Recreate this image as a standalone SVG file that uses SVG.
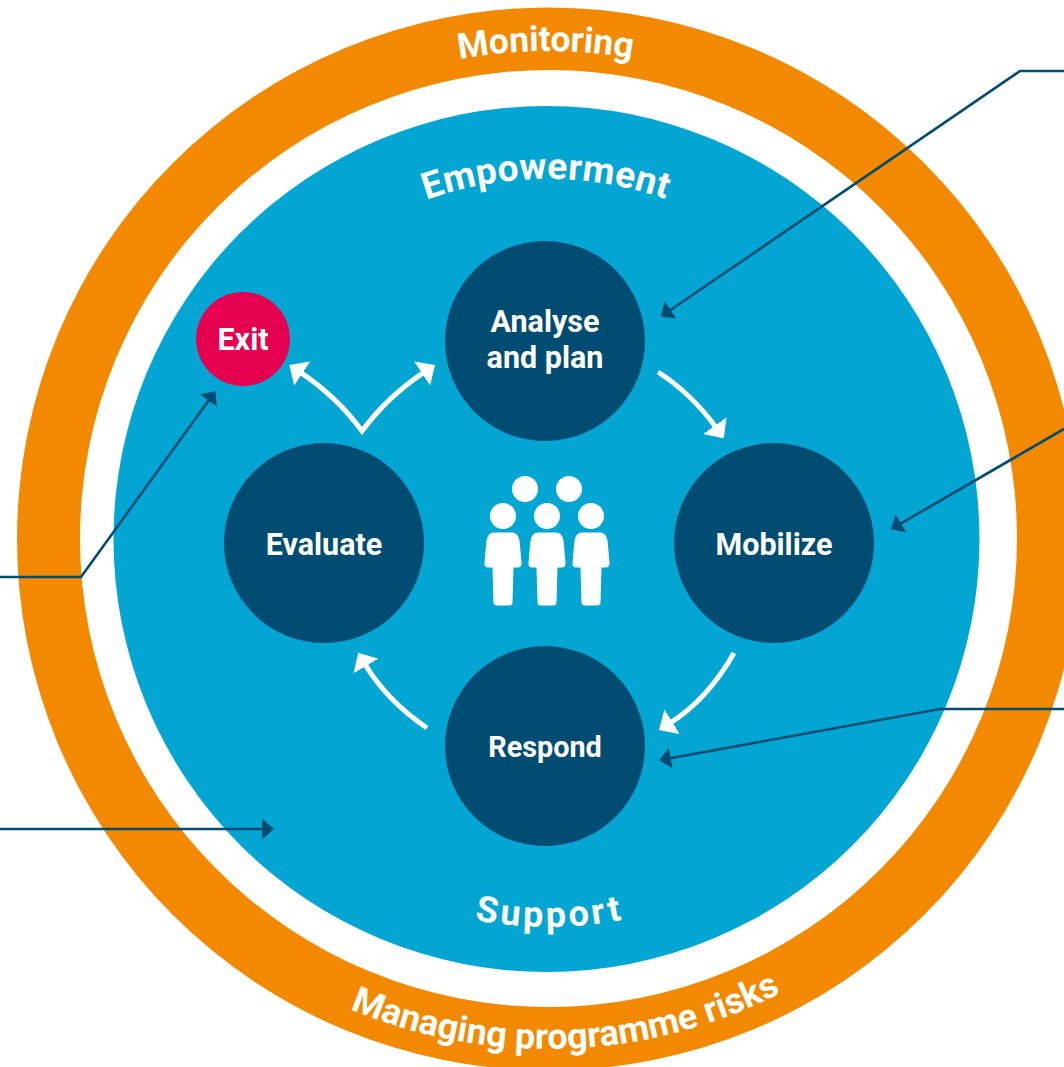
<svg xmlns="http://www.w3.org/2000/svg" width="1064" height="1067" viewBox="0 0 1064 1067">
<style>
text{font-family:Roboto,"Liberation Sans",sans-serif;font-weight:700;fill:#fff;text-anchor:middle}
.n{fill:#004c72}
.lab{font-size:30.5px}
.ring{font-size:36px}
.w{fill:none;stroke:#fff;stroke-width:5;stroke-miterlimit:10;marker-end:url(#wh)}
.c{fill:none;stroke:#004c72;stroke-width:2.6;marker-end:url(#dh)}
</style>
<defs>
<marker id="wh" markerUnits="userSpaceOnUse" markerWidth="18" markerHeight="30" refX="3.5" refY="14.5" orient="auto-start-reverse"><path d="M15.5 14.5L0 0V29Z" fill="#fff"/></marker>
<marker id="dh" markerUnits="userSpaceOnUse" markerWidth="14" markerHeight="22" refX="9" refY="10.5" orient="auto"><path d="M12 10.5L0 0V21Z" fill="#004c72"/></marker>
<path id="body" d="M-9 0H9Q15 0 16.5 8L18.5 30Q18.8 35 15 35H10.5L9.5 70Q9.3 73 6 73H-6Q-9.3 73-9.5 70L-10.5 35H-15Q-18.8 35-18.5 30L-16.5 8Q-15 0-9 0Z" fill="#fff"/>
<path id="t1" d="M60 539A488 488 0 0 1 1036 539"/>
<path id="t2" d="M187 539A360 360 0 0 1 907 539"/>
<path id="t3" d="M160 539A388 388 0 0 0 936 539"/>
<path id="t4" d="M38 539A510 510 0 0 0 1058 539"/>
</defs>
<g id="rings">
<circle cx="548.5" cy="539" r="531.5" fill="#f28900"/>
<circle cx="548.5" cy="538.5" r="468.5" fill="#fff"/>
<circle cx="546.5" cy="539" r="433" fill="#03a6d2"/>
</g>
<g id="ring-labels">
<text class="ring" style="font-size:35.5px" letter-spacing="-0.1"><textPath href="#t1" startOffset="49.84%">Monitoring</textPath></text>
<text class="ring" style="font-size:37px" letter-spacing="0.3"><textPath href="#t2" startOffset="49.9%">Empowerment</textPath></text>
<text class="ring" letter-spacing="3.2"><textPath href="#t3" startOffset="50.15%">Support</textPath></text>
<text class="ring"><textPath href="#t4" startOffset="51.2%">Managing programme risks</textPath></text>
</g>
<g id="people">
<circle cx="525" cy="489" r="13" fill="#fff"/><circle cx="569" cy="489" r="13" fill="#fff"/>
<circle cx="503" cy="516" r="13" fill="#fff"/><circle cx="547" cy="516" r="13" fill="#fff"/><circle cx="591" cy="516" r="13" fill="#fff"/>
<use href="#body" x="503" y="532.5"/><use href="#body" x="547" y="532.5"/><use href="#body" x="591" y="532.5"/>
</g>
<g id="node-analyse"><circle class="n" cx="545" cy="341" r="100"/><text class="lab" x="545" y="331.5">Analyse</text><text class="lab" x="545" y="367.5">and plan</text></g>
<g id="node-mobilize"><circle class="n" cx="774" cy="543" r="100"/><text class="lab" x="774" y="554.5">Mobilize</text></g>
<g id="node-respond"><circle class="n" cx="545" cy="746" r="100"/><text class="lab" style="font-size:28.8px" x="545" y="757">Respond</text></g>
<g id="node-evaluate"><circle class="n" cx="324" cy="543" r="100"/><text class="lab" x="324" y="554.5">Evaluate</text></g>
<g id="node-exit"><circle cx="243" cy="339" r="47" fill="#e50050"/><text class="lab" x="243" y="349.5">Exit</text></g>
<g id="connectors">
<path class="w" d="M658 372Q692 394 716.8 428.5"/>
<path class="w" d="M734 653Q707.5 699.7 669.2 723.6"/>
<path class="w" d="M427 728Q386 700 364.3 663"/>
<path class="w" style="marker-start:url(#wh)" d="M299.3 371.6Q336.7 396.4 362 431Q387.6 396.4 425 371.6"/>
<path class="c" d="M1064 71H1020L663.2 315"/>
<path class="c" d="M1064 429L893.3 527.8"/>
<path class="c" d="M1064 709H940L662 759.8"/>
<path class="c" d="M0 829H271"/>
<path class="c" d="M0 577H81L213.7 393.4"/>
</g>
</svg>
